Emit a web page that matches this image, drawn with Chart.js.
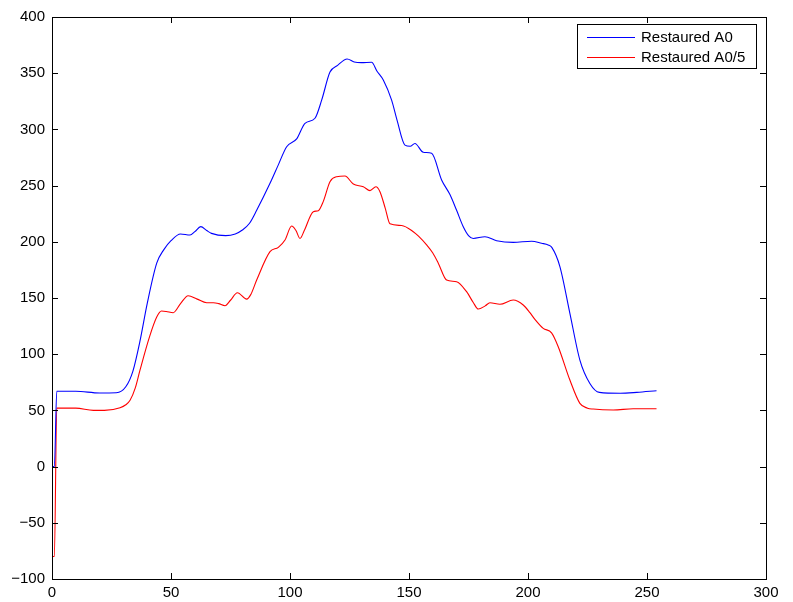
<!DOCTYPE html>
<html>
<head>
<meta charset="utf-8">
<script src="https://cdn.jsdelivr.net/npm/chart.js@4/dist/chart.umd.min.js"></script>
<style>
  html, body { margin: 0; padding: 0; background: #fff; }
  #wrap { width: 793px; height: 602px; }
</style>
</head>
<body>
<div id="wrap"><canvas id="grafico"></canvas></div>
<script>
// datos
const xAzul = [0, 1, 2, 10, 20, 27, 31, 34, 37, 40, 44, 47, 50, 54, 58, 60, 62.5, 65, 67, 73, 77, 80, 83, 86, 91.6, 95, 98.6, 102.8, 106.3, 110.5, 113.3, 116.8, 120, 124, 127, 130, 134.3, 136.5, 139.2, 142.7, 145, 148.3, 150.5, 152.5, 156, 159.5, 163.7, 167.2, 170, 172.8, 175, 177, 181.9, 186.8, 193.8, 201.5, 205.7, 208.5, 210, 213.4, 217.6, 221.8, 226, 230, 238.7, 245.7, 254];
const yAzul = [0, 0, 67, 67, 65.5, 65.7, 71, 85, 112, 145, 181, 193, 201, 207, 206, 209, 213.5, 210, 207.5, 205.5, 207, 210.5, 216.5, 228, 252, 268, 284.6, 291.5, 305.4, 309.9, 326, 351, 357, 362.6, 360, 359.4, 359.7, 352, 344, 326, 308, 286, 285, 287.5, 279.6, 278.7, 255, 242, 228, 213.4, 205.5, 203, 204.5, 201, 199.5, 200.5, 198.7, 197.2, 195, 178, 136.4, 94.8, 74, 66, 65.2, 66, 67.5];

const xRojo = [0, 1, 2, 10, 17.4, 22, 28.6, 31, 32.8, 35, 37, 41, 44, 46, 48, 50.9, 54, 57.2, 61, 65, 67.8, 70, 72.7, 75, 77.9, 81.8, 83.5, 86, 91.6, 95.1, 97.9, 100.7, 102.5, 104.2, 106, 109.8, 111.9, 114, 116.8, 119.6, 123.1, 126.6, 130.8, 133.6, 136.1, 137.8, 140, 142, 146.9, 151.8, 154, 157.4, 160, 162.3, 165.8, 170, 174.2, 177, 179.1, 182, 184, 188.2, 193.8, 198, 200.8, 202.9, 206.4, 209.9, 212.7, 217.6, 221.8, 225, 227.4, 235.8, 244.2, 254];
const yRojo = [-80, -80, 52, 52, 50, 50, 52.4, 55, 59, 70, 86, 115.6, 133, 138.4, 138, 136.9, 145, 152, 149, 145.8, 145.8, 145, 143.1, 148, 154.7, 149, 153, 166, 191.2, 195.1, 201.6, 214, 210, 203, 210, 226.8, 227.7, 236, 253.5, 257.9, 258.5, 251.4, 249, 245.5, 249, 244.6, 230, 216, 214.5, 209, 205, 197.2, 190, 181, 166, 164.5, 155.6, 146, 140.2, 143, 145.8, 144.4, 148.2, 143.8, 137, 131, 123, 119, 106.7, 77, 56.3, 52, 51.2, 50.4, 51.5, 51.5];

const etiquetas = ['Restaured A0', 'Restaured A0/5'];
const colores = ['#0000ff', '#ff0000'];

const fuente = { family: 'Liberation Sans, Arial, sans-serif', size: 15 };

const puntos = (xs, ys) => xs.map((x, i) => ({ x: x, y: ys[i] }));
const conMenos = v => String(v).replace('-', '\u2212');

// caja, marcas hacia dentro y leyenda al estilo MATLAB
const cajaMatlab = {
    id: 'cajaMatlab',
    afterDraw(chart) {
        const ctx = chart.ctx;
        const a = chart.chartArea;
        const sx = chart.scales.x;
        const sy = chart.scales.y;
        const largo = 6;
        ctx.save();
        ctx.strokeStyle = '#000';
        ctx.lineWidth = 1;
        ctx.beginPath();
        sx.ticks.forEach(t => {
            const px = Math.round(sx.getPixelForValue(t.value)) + 0.5;
            ctx.moveTo(px, a.bottom); ctx.lineTo(px, a.bottom - largo);
            ctx.moveTo(px, a.top); ctx.lineTo(px, a.top + largo);
        });
        sy.ticks.forEach(t => {
            const py = Math.round(sy.getPixelForValue(t.value)) + 0.5;
            ctx.moveTo(a.left, py); ctx.lineTo(a.left + largo, py);
            ctx.moveTo(a.right, py); ctx.lineTo(a.right - largo, py);
        });
        ctx.stroke();
        ctx.strokeRect(Math.round(a.left) + 0.5, Math.round(a.top) + 0.5,
            Math.round(a.right - a.left), Math.round(a.bottom - a.top));

        // leyenda
        const bx = 577.5, by = 24.5, bw = 179, bh = 44;
        ctx.fillStyle = '#fff';
        ctx.fillRect(bx, by, bw, bh);
        ctx.strokeStyle = '#000';
        ctx.strokeRect(bx, by, bw, bh);
        ctx.font = '15px ' + fuente.family;
        ctx.textBaseline = 'middle';
        etiquetas.forEach((txt, i) => {
            const ly = by + 12 + i * 20;
            ctx.strokeStyle = colores[i];
            ctx.beginPath();
            ctx.moveTo(587, Math.round(ly) + 0.5);
            ctx.lineTo(635, Math.round(ly) + 0.5);
            ctx.stroke();
            ctx.fillStyle = '#000';
            ctx.fillText(txt, 641, ly + 1);
        });
        ctx.restore();
    }
};

const ctx = document.getElementById('grafico').getContext('2d');
new Chart(ctx, {
    type: 'line',
    data: {
        datasets: [
            {
                label: etiquetas[0],
                data: puntos(xAzul, yAzul),
                borderColor: colores[0],
                borderWidth: 1.1,
                pointRadius: 0,
                cubicInterpolationMode: 'monotone',
                fill: false
            },
            {
                label: etiquetas[1],
                data: puntos(xRojo, yRojo),
                borderColor: colores[1],
                borderWidth: 1.1,
                pointRadius: 0,
                cubicInterpolationMode: 'monotone',
                fill: false
            }
        ]
    },
    options: {
        responsive: true,
        maintainAspectRatio: false,
        animation: false,
        layout: { padding: { left: 0, right: 27, top: 17, bottom: 0 } },
        plugins: {
            legend: { display: false },
            tooltip: { enabled: false }
        },
        scales: {
            x: {
                type: 'linear',
                min: 0,
                max: 300,
                ticks: { stepSize: 50, color: '#000', font: fuente, padding: 5, maxRotation: 0 },
                grid: { display: false, drawTicks: false },
                border: { display: false },
                afterFit: s => { s.height = 23; }
            },
            y: {
                min: -100,
                max: 400,
                ticks: { stepSize: 50, color: '#000', font: fuente, padding: 7, callback: v => conMenos(v) },
                grid: { display: false, drawTicks: false },
                border: { display: false },
                afterFit: s => { s.width = 52; }
            }
        }
    },
    plugins: [cajaMatlab]
});
</script>
</body>
</html>
